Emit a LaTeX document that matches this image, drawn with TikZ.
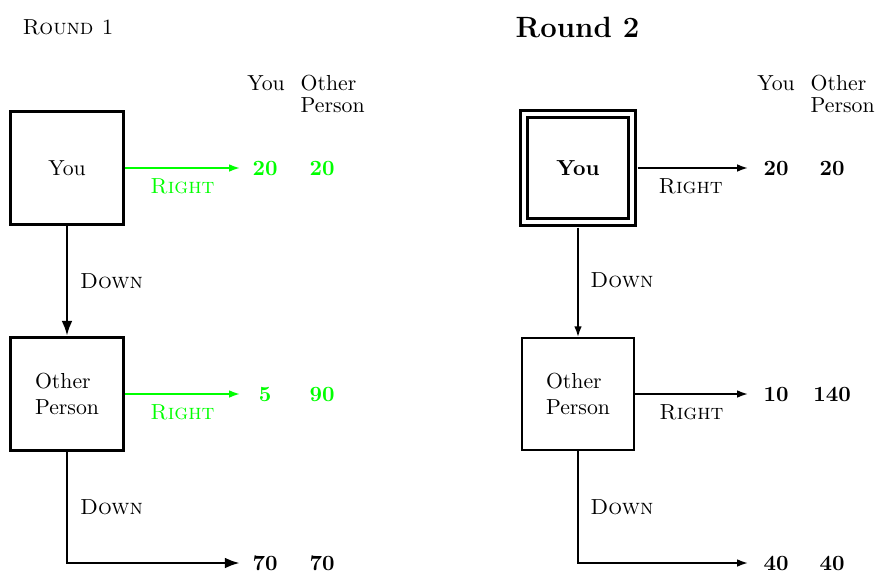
\documentclass[tikz,border=0pt]{standalone}
\usetikzlibrary{arrows.meta,positioning,calc}
\tikzset{
  player/.style={draw,line width=1.3pt,minimum size=52pt,inner sep=0pt,align=left},
  player2/.style={draw,line width=0.8pt,minimum size=51.5pt,inner sep=0pt,align=left},
  thickmove/.style={-{Latex[length=7pt,width=5pt]},line width=1.3pt},
  thinmove/.style={-{Latex[length=5pt,width=3.5pt]},line width=0.8pt},
  payoff/.style={font=\bfseries},
}
\begin{document}
\begin{tikzpicture}[x=0.46pt,y=-0.46pt]
  \useasboundingbox (0,0) rectangle (875,572);
  % round 1
  \node[anchor=west] (title1) at (15,27) {\textsc{Round 1}};
  \node (you1h) at (266,83) {You};
  \node[anchor=west,align=left] (oth1h) at (293,94) {Other\\[-2pt]Person};
  \node[player] (you1) at (67,168) {You};
  \node[player] (oth1) at (67,394) {Other\\Person};
  \coordinate (r1a) at (240,168);
  \coordinate (r1b) at (240,394);
  \coordinate (r1c) at (240,563);
  \foreach \n/\y/\a/\b/\c in {a/168/20/20/green,b/394/5/90/green,c/563/70/70/black}{
    \node[payoff,text=\c] (y1\n) at (265,\y) {\a};
    \node[payoff,text=\c] (o1\n) at (322,\y) {\b};
  }
  \draw[thinmove,green] (you1.east) -- (r1a) node[midway,below=1pt] {\textsc{Right}};
  \draw[thinmove,green] (oth1.east) -- (r1b) node[midway,below=1pt] {\textsc{Right}};
  \draw[thickmove] (you1.south) -- (oth1.north) node[midway,right=2pt] {\textsc{Down}};
  \draw[thickmove] (oth1.south) |- (r1c) node[pos=0.25,right=2pt] {\textsc{Down}};

  % round 2
  \node[anchor=west,font=\fontsize{13.5}{16}\selectfont\bfseries] (title2) at (508,27) {Round 2};
  \node (you2h) at (776,83) {You};
  \node[anchor=west,align=left] (oth2h) at (803,94) {Other\\[-2pt]Person};
  \node[player2,double,line width=1.5pt,double distance=1.6pt,minimum size=49.5pt,font=\bfseries] (you2) at (578,168) {You};
  \node[player2] (oth2) at (578,394) {Other\\Person};
  \coordinate (r2a) at (748,168);
  \coordinate (r2b) at (748,394);
  \coordinate (r2c) at (748,563);
  \foreach \n/\y/\a/\b in {a/168/20/20,b/394/10/140,c/563/40/40}{
    \node[payoff] (y2\n) at (776,\y) {\a};
    \node[payoff] (o2\n) at (832,\y) {\b};
  }
  \draw[thinmove,shorten <=1.9pt] (you2.east) -- (r2a) node[midway,below=1pt] {\textsc{Right}};
  \draw[thinmove] (oth2.east) -- (r2b) node[midway,below=1pt] {\textsc{Right}};
  \draw[thinmove,shorten <=1.9pt] (you2.south) -- (oth2.north) node[midway,right=2pt] {\textsc{Down}};
  \draw[thinmove] (oth2.south) |- (r2c) node[pos=0.25,right=2pt] {\textsc{Down}};
\end{tikzpicture}
\end{document}
